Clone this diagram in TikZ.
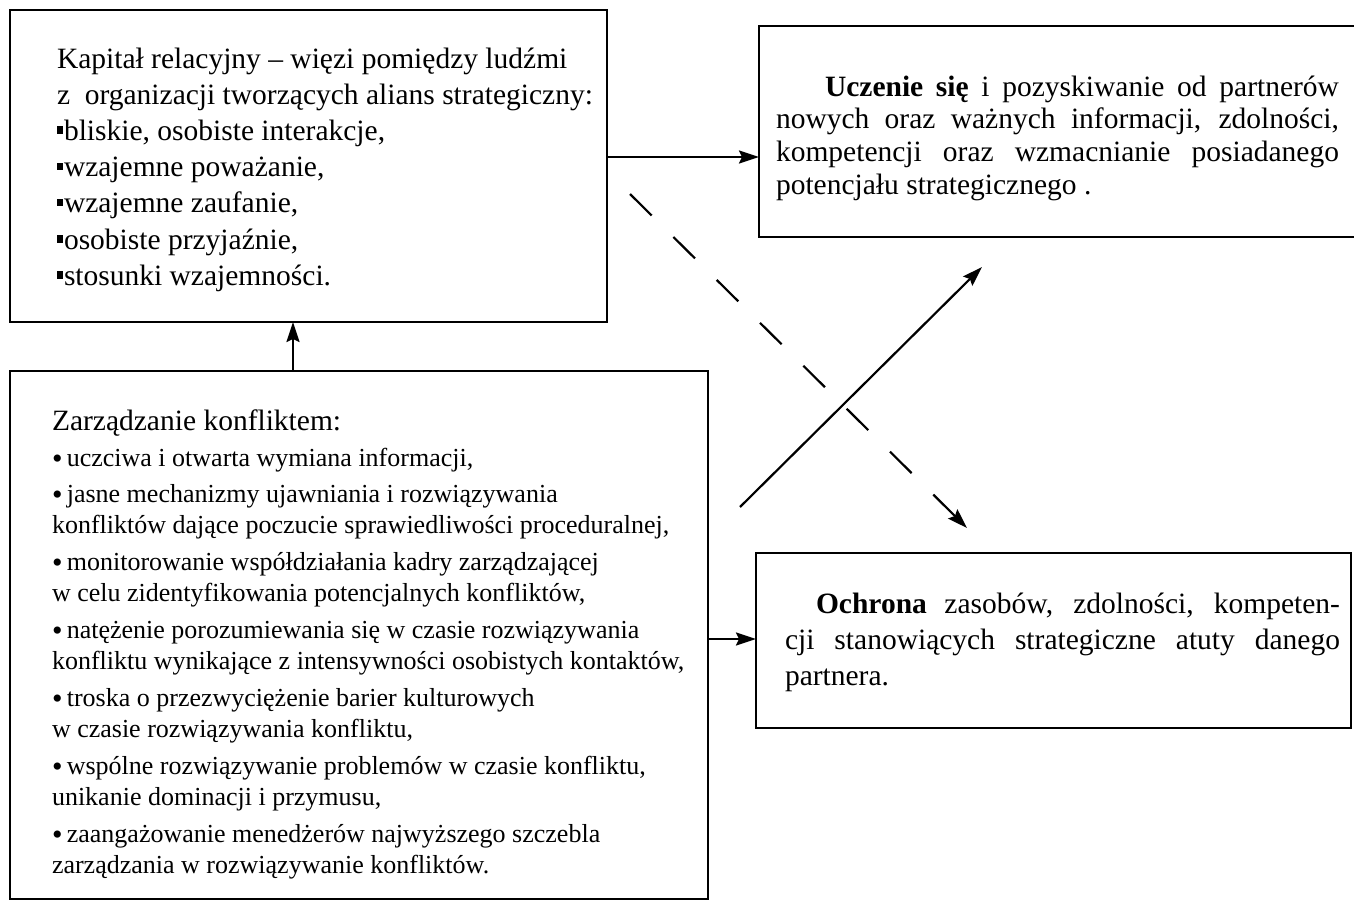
\documentclass[tikz,border=0pt]{standalone}
\usepackage{fontspec}
\setmainfont{Liberation Serif}
\usetikzlibrary{arrows.meta}
% font size with natural interword glue
\newcommand{\fs}[2]{\fontsize{#1}{#2}\selectfont\spaceskip=0pt\xspaceskip=0pt\relax}
\newcommand{\sqbul}{\rule[6.5pt]{5.5pt}{7.5pt}\hspace{1.5pt}}
\newcommand{\rdbul}{{\fontsize{30}{30}\selectfont\raisebox{-2pt}{•}}\,}
\newcommand{\jline}[2]{\leavevmode\hbox to #1{#2}}
\begin{document}
\begin{tikzpicture}[x=1pt,y=-1pt,
  box/.style={draw, line width=2.6pt, inner sep=0pt, outer sep=0pt},
  txt/.style={anchor=base west, inner sep=0pt, outer sep=0pt, align=left},
  conn/.style={line width=2.2pt, -{Stealth[length=20pt,width=13pt,inset=3pt]}},
  dconn/.style={conn, dash pattern=on 30.5pt off 30.5pt}]
\useasboundingbox (0,0) rectangle (1354,902);

% boxes
\node[box, minimum width=597pt, minimum height=312pt] (A) at (308.5,166) {};
\node[box, minimum width=698pt, minimum height=528pt] (B) at (359,635) {};
\node[box, minimum width=611pt, minimum height=211pt] (C) at (1064.5,131.5) {};
\node[box, minimum width=595pt, minimum height=175pt] (D) at (1053.5,640.5) {};

% texts
\node[txt, text width=545pt, font=\fs{29.5}{36.2}] (tA) at (57,68) {\fs{29.5}{36.2}%
Kapitał relacyjny – więzi pomiędzy ludźmi\\
z~ organizacji tworzących alians strategiczny:\\
\sqbul bliskie, osobiste interakcje,\\
\sqbul wzajemne poważanie,\\
\sqbul wzajemne zaufanie,\\
\sqbul osobiste przyjaźnie,\\
\sqbul stosunki wzajemności.\par};

\node[txt, text width=660pt, font=\fs{29.5}{31}] (tB) at (52,430) {\fs{29.5}{31}%
Zarządzanie konfliktem:\\[5pt]
\fs{26}{31}%
\rdbul uczciwa i otwarta wymiana informacji,\\[5.7pt]
\rdbul jasne mechanizmy ujawniania i rozwiązywania\\
konfliktów dające poczucie sprawiedliwości proceduralnej,\\[6pt]
\rdbul monitorowanie współdziałania kadry zarządzającej\\
w celu zidentyfikowania potencjalnych konfliktów,\\[6pt]
\rdbul natężenie porozumiewania się w czasie rozwiązywania\\
konfliktu wynikające z intensywności osobistych kontaktów,\\[6pt]
\rdbul troska o przezwyciężenie barier kulturowych\\
w czasie rozwiązywania konfliktu,\\[6pt]
\rdbul wspólne rozwiązywanie problemów w czasie konfliktu,\\
unikanie dominacji i przymusu,\\[6pt]
\rdbul zaangażowanie menedżerów najwyższego szczebla\\
zarządzania w rozwiązywanie konfliktów.\par};

\node[txt, text width=563pt, font=\fs{29.5}{32.7}] (tC) at (776,96) {\fs{29.5}{32.7}%
\jline{563pt}{\hspace*{49pt}\textbf{Uczenie się} i pozyskiwanie od partnerów}\\
\jline{563pt}{nowych oraz ważnych informacji, zdolności,}\\
\jline{563pt}{kompetencji oraz wzmacnianie posiadanego}\\
potencjału strategicznego .\par};

\node[txt, text width=555pt, font=\fs{29.5}{36}] (tD) at (785,613) {\fs{29.5}{36}%
\jline{555pt}{\hspace*{31pt}\textbf{Ochrona} zasobów, zdolności, kompeten-}\\
\jline{555pt}{cji stanowiących strategiczne atuty danego}\\
partnera.\par};

% reference coordinates for connectors
\coordinate (yAC) at (0,157);
\coordinate (xBA) at (293,0);
\coordinate (yBD) at (0,639);
\coordinate (s0) at (740,507);
\coordinate (s1) at (982,267);
\coordinate (d0) at (630,194);
\coordinate (d1) at (967,528);

% connectors
\draw[conn] (A.east |- yAC) -- (C.west |- yAC);
\draw[conn] (B.north -| xBA) -- (A.south -| xBA);
\draw[conn] (B.east |- yBD) -- (D.west |- yBD);
\draw[conn] (s0) -- (s1);
\draw[dconn] (d0) -- (d1);
\end{tikzpicture}
\end{document}
